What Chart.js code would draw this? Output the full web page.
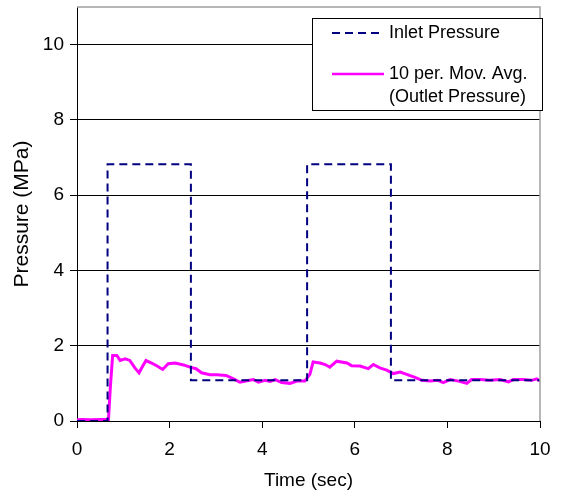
<!DOCTYPE html>
<html>
<head>
<meta charset="utf-8">
<script src="https://cdn.jsdelivr.net/npm/chart.js@4/dist/chart.umd.min.js"></script>
<style>
  body { margin: 0; background: #fff; }
  canvas { display: block; }
</style>
</head>
<body>
<canvas id="chart" width="561" height="500"></canvas>
<script>
// inlet pressure (square pulses)
const inletTime = [0, 0.66, 0.66, 2.46, 2.46, 4.97, 4.97, 6.78, 6.78, 10];
const inletPressure = [0, 0, 6.82, 6.82, 1.08, 1.08, 6.82, 6.82, 1.08, 1.08];

// outlet pressure, 10 period moving average
const outletTime = [0, 0.1, 0.3, 0.5, 0.68, 0.72, 0.77, 0.86, 0.93, 1.04, 1.14, 1.25, 1.34, 1.42, 1.49,
  1.61, 1.73, 1.85, 1.97, 2.12, 2.3, 2.44, 2.57, 2.69, 2.87, 3.02, 3.22, 3.38, 3.52, 3.67, 3.81,
  3.92, 4.06, 4.17, 4.28, 4.42, 4.6, 4.75, 4.92, 5.03, 5.1, 5.25, 5.36, 5.46, 5.61, 5.83, 5.93,
  6.11, 6.29, 6.4, 6.54, 6.69, 6.83, 6.98, 7.12, 7.3, 7.45, 7.62, 7.8, 7.91, 8.06, 8.24, 8.42,
  8.52, 8.7, 8.92, 9.14, 9.32, 9.42, 9.64, 9.82, 9.93, 10];
const outletPressure = [0.03, 0.04, 0.03, 0.04, 0.04, 0.9, 1.74, 1.74, 1.61, 1.65, 1.61, 1.41, 1.28, 1.46, 1.61,
  1.54, 1.46, 1.37, 1.52, 1.54, 1.49, 1.43, 1.39, 1.28, 1.23, 1.23, 1.21, 1.12, 1.03, 1.07, 1.1,
  1.03, 1.08, 1.05, 1.1, 1.02, 1.0, 1.06, 1.06, 1.24, 1.57, 1.54, 1.5, 1.43, 1.59, 1.54, 1.47,
  1.46, 1.39, 1.5, 1.41, 1.35, 1.26, 1.3, 1.24, 1.16, 1.08, 1.06, 1.08, 1.02, 1.1, 1.06, 1.0,
  1.1, 1.1, 1.08, 1.1, 1.04, 1.1, 1.1, 1.08, 1.12, 1.06];

const xTicks = [0, 2, 4, 6, 8, 10];
const yTicks = [0, 2, 4, 6, 8, 10];

const font = 'Liberation Sans, Arial, sans-serif';

function toPoints(xs, ys) {
  return xs.map((x, i) => ({ x: x, y: ys[i] }));
}

// gray top/right frame and the boxed legend
const framePlugin = {
  id: 'frame',
  afterDraw(chart) {
    const ctx = chart.ctx;
    const a = chart.chartArea;
    ctx.save();
    ctx.strokeStyle = '#a0a0a0';
    ctx.lineWidth = 1.5;
    ctx.beginPath();
    ctx.moveTo(a.left, a.top);
    ctx.lineTo(a.right, a.top);
    ctx.lineTo(a.right, a.bottom);
    ctx.stroke();

    // legend box
    ctx.fillStyle = '#fff';
    ctx.fillRect(312, 18, 231, 93);
    ctx.strokeStyle = '#000';
    ctx.lineWidth = 1;
    ctx.strokeRect(312.5, 18.5, 230, 92);

    ctx.lineWidth = 2;
    ctx.strokeStyle = '#000080';
    ctx.setLineDash([8, 5]);
    ctx.beginPath();
    ctx.moveTo(332, 33);
    ctx.lineTo(384, 33);
    ctx.stroke();
    ctx.setLineDash([]);
    ctx.strokeStyle = '#ff00ff';
    ctx.lineWidth = 2.5;
    ctx.beginPath();
    ctx.moveTo(332, 74);
    ctx.lineTo(384, 74);
    ctx.stroke();

    ctx.fillStyle = '#000';
    ctx.font = '18px ' + font;
    ctx.textBaseline = 'middle';
    ctx.textAlign = 'left';
    ctx.fillText('Inlet Pressure', 389, 33);
    ctx.fillText('10 per. Mov. Avg.', 389, 74);
    ctx.fillText('(Outlet Pressure)', 389, 97);
    ctx.restore();
  }
};

new Chart(document.getElementById('chart'), {
  type: 'line',
  data: {
    datasets: [
      {
        label: 'Inlet Pressure',
        data: toPoints(inletTime, inletPressure),
        borderColor: '#000080',
        borderWidth: 2,
        borderDash: [8, 5],
        pointRadius: 0,
        tension: 0
      },
      {
        label: '10 per. Mov. Avg. (Outlet Pressure)',
        data: toPoints(outletTime, outletPressure),
        borderColor: '#ff00ff',
        borderWidth: 3,
        pointRadius: 0,
        tension: 0
      }
    ]
  },
  options: {
    responsive: false,
    animation: false,
    layout: { padding: { top: 7, right: 21, left: 0, bottom: 0 } },
    plugins: {
      legend: { display: false },
      tooltip: { enabled: false }
    },
    scales: {
      x: {
        type: 'linear',
        min: 0,
        max: 10,
        afterBuildTicks: (scale) => { scale.ticks = xTicks.map(v => ({ value: v })); },
        afterFit: (scale) => { scale.height = 79; scale.paddingLeft = 0; scale.paddingRight = 0; },
        ticks: { color: '#000', font: { family: font, size: 19 }, padding: 10, maxRotation: 0 },
        grid: { drawOnChartArea: false, tickLength: 7, color: '#000' },
        border: { color: '#000', width: 1 },
        title: { display: true, text: 'Time (sec)', color: '#000', font: { family: font, size: 19 }, padding: { top: 0, bottom: 8 } }
      },
      y: {
        min: 0,
        max: 11,
        afterBuildTicks: (scale) => { scale.ticks = yTicks.map(v => ({ value: v })); },
        afterFit: (scale) => { scale.width = 77; scale.paddingTop = 0; scale.paddingBottom = 0; },
        ticks: { color: '#000', font: { family: font, size: 19 }, padding: 6 },
        grid: { color: '#000', tickLength: 7, lineWidth: 1 },
        border: { color: '#000', width: 1 },
        title: { display: true, text: 'Pressure (MPa)', color: '#000', font: { family: font, size: 21 }, padding: { top: 10, bottom: 0 } }
      }
    }
  },
  plugins: [framePlugin]
});
</script>
</body>
</html>
